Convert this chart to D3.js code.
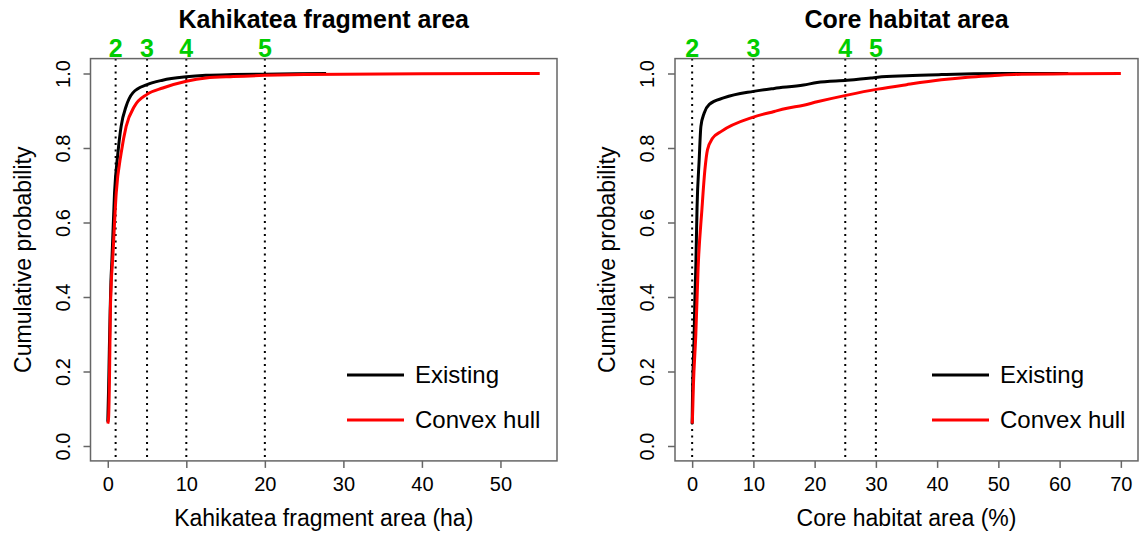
<!DOCTYPE html>
<html>
<head>
<meta charset="utf-8">
<script src="https://cdn.jsdelivr.net/npm/d3@7"></script>
<style>
  html, body { margin: 0; padding: 0; background: #fff; }
  svg { display: block; font-family: "Liberation Sans", Arial, sans-serif; }
</style>
</head>
<body>
<svg id="chart" width="1145" height="533"></svg>
<script>
// Cumulative distribution of fragment area (ha)
const fragExistingArea = [0, 0.1, 0.2, 0.3, 0.4, 0.53, 0.86, 1.29, 1.7, 2.34, 3.19, 5.0, 6.98, 10, 12.5, 16, 20, 24, 27.8];
const fragExistingProb = [0.065, 0.15, 0.26, 0.36, 0.44, 0.50, 0.68, 0.787, 0.858, 0.912, 0.948, 0.970, 0.982, 0.991, 0.995, 0.997, 0.998, 0.999, 1.0];
const fragHullArea = [0, 0.1, 0.23, 0.32, 0.45, 0.62, 1.08, 1.71, 2.34, 3.4, 5.0, 7.0, 10, 12.5, 16, 20, 25, 30, 40, 55];
const fragHullProb = [0.06, 0.075, 0.2, 0.35, 0.44, 0.5, 0.68, 0.787, 0.858, 0.912, 0.944, 0.961, 0.979, 0.988, 0.992, 0.995, 0.997, 0.998, 0.999, 1.0];

// Cumulative distribution of core habitat area (%)
const coreExistingArea = [0, 0.05, 0.33, 0.44, 0.6, 0.8, 1.15, 1.43, 1.97, 2.8, 5.25, 10, 13.4, 18.2, 20.4, 25.3, 29.2, 30.3, 35, 40.7, 46, 53.8, 61.4];
const coreExistingProb = [0.06, 0.123, 0.30, 0.39, 0.48, 0.64, 0.769, 0.858, 0.894, 0.917, 0.935, 0.952, 0.960, 0.969, 0.976, 0.982, 0.988, 0.990, 0.994, 0.997, 0.999, 1.0, 1.0];
const coreHullArea = [0, 0.05, 0.2, 0.6, 0.98, 1.59, 2.08, 2.5, 3.33, 4.7, 10, 13.4, 15.3, 18.2, 20.4, 25.3, 30.3, 35, 40.7, 45, 48.9, 53.8, 61.4, 70];
const coreHullProb = [0.06, 0.075, 0.16, 0.30, 0.48, 0.634, 0.741, 0.795, 0.826, 0.844, 0.883, 0.898, 0.906, 0.915, 0.924, 0.942, 0.958, 0.970, 0.983, 0.990, 0.994, 0.998, 0.999, 1.0];

// Threshold markers (numbered classes)
const fragThresholds = [1, 5, 10, 20];
const coreThresholds = [0, 10, 25, 30];
const thresholdLabels = ["2", "3", "4", "5"];

const fragTicks = [0, 10, 20, 30, 40, 50];
const coreTicks = [0, 10, 20, 30, 40, 50, 60, 70];
const probTicks = [0, 0.2, 0.4, 0.6, 0.8, 1.0];

const seriesNames = ["Existing", "Convex hull"];
const seriesColors = ["#000000", "#ff0000"];

const panels = [
  {
    title: "Kahikatea fragment area",
    xlab: "Kahikatea fragment area (ha)",
    xdom: [0, 55], xticks: fragTicks,
    left: 90.5, right: 557,
    series: [[fragExistingArea, fragExistingProb], [fragHullArea, fragHullProb]],
    thresholds: fragThresholds,
    legendX: 347
  },
  {
    title: "Core habitat area",
    xlab: "Core habitat area (%)",
    xdom: [0, 70], xticks: coreTicks,
    left: 675, right: 1138,
    series: [[coreExistingArea, coreExistingProb], [coreHullArea, coreHullProb]],
    thresholds: coreThresholds,
    legendX: 932
  }
];

const svg = d3.select("#chart");
const plotTop = 58.6, plotBottom = 460.9;
const axisColor = "#666666";

panels.forEach(p => {
  const pad = (p.xdom[1] - p.xdom[0]) * 0.04;
  const x = d3.scaleLinear().domain([p.xdom[0] - pad, p.xdom[1] + pad]).range([p.left, p.right]);
  const y = d3.scaleLinear().domain([-0.04, 1.04]).range([plotBottom, plotTop]);
  const g = svg.append("g");

  // threshold lines
  g.selectAll("line.thr").data(p.thresholds).enter().append("line")
    .attr("x1", d => x(d)).attr("x2", d => x(d))
    .attr("y1", plotTop).attr("y2", plotBottom)
    .attr("stroke", "#000").attr("stroke-width", 2)
    .attr("stroke-dasharray", "2 4.5");

  // ECDF curves
  const line = d3.line().x(d => x(d[0])).y(d => y(d[1])).curve(d3.curveMonotoneX);
  p.series.forEach((s, i) => {
    const pts = s[0].map((v, k) => [v, s[1][k]]);
    g.append("path").datum(pts)
      .attr("d", line)
      .attr("fill", "none")
      .attr("stroke", seriesColors[i])
      .attr("stroke-width", 3)
      .attr("stroke-linejoin", "round");
  });

  // box
  g.append("rect")
    .attr("x", p.left).attr("y", plotTop)
    .attr("width", p.right - p.left).attr("height", plotBottom - plotTop)
    .attr("fill", "none").attr("stroke", axisColor).attr("stroke-width", 1.5);

  // x axis
  const xa = g.append("g").attr("transform", `translate(0,${plotBottom})`)
    .call(d3.axisBottom(x).tickValues(p.xticks).tickFormat(d3.format("d")).tickSize(7).tickPadding(4));
  xa.select(".domain").remove();
  xa.selectAll(".tick line").attr("stroke", axisColor).attr("stroke-width", 1.5);
  xa.selectAll(".tick text").attr("font-size", 20).attr("fill", "#000")
    .attr("font-family", "Liberation Sans, Arial, sans-serif").attr("dy", "0.95em");

  // y axis
  const ya = g.append("g").attr("transform", `translate(${p.left},0)`)
    .call(d3.axisLeft(y).tickValues(probTicks).tickFormat(d3.format(".1f")).tickSize(7));
  ya.select(".domain").remove();
  ya.selectAll(".tick line").attr("stroke", axisColor).attr("stroke-width", 1.5);
  ya.selectAll(".tick text").remove();
  ya.selectAll(".tick").append("text")
    .attr("transform", `translate(-21,0) rotate(-90)`)
    .attr("text-anchor", "middle")
    .attr("font-size", 20).attr("fill", "#000")
    .attr("font-family", "Liberation Sans, Arial, sans-serif")
    .text(d => d3.format(".1f")(d));

  const cx = (p.left + p.right) / 2;
  // title
  g.append("text").attr("x", cx).attr("y", 28)
    .attr("text-anchor", "middle").attr("font-size", 25).attr("font-weight", "bold")
    .text(p.title);

  // x label
  g.append("text").attr("x", cx).attr("y", 526)
    .attr("text-anchor", "middle").attr("font-size", 23)
    .text(p.xlab);

  // y label
  g.append("text")
    .attr("transform", `translate(${p.left - 60},${(plotTop + plotBottom) / 2}) rotate(-90)`)
    .attr("text-anchor", "middle").attr("font-size", 23)
    .text("Cumulative probability");

  // threshold numbers
  g.selectAll("text.thr").data(p.thresholds).enter().append("text")
    .attr("x", d => x(d)).attr("y", 57)
    .attr("text-anchor", "middle").attr("font-size", 25).attr("font-weight", "bold")
    .attr("fill", "#00cd00")
    .text((d, i) => thresholdLabels[i]);

  // legend
  seriesNames.forEach((name, i) => {
    const ly = 375 + i * 45;
    g.append("line").attr("x1", p.legendX).attr("x2", p.legendX + 57)
      .attr("y1", ly).attr("y2", ly)
      .attr("stroke", seriesColors[i]).attr("stroke-width", 3);
    g.append("text").attr("x", p.legendX + 68).attr("y", ly + 8)
      .attr("font-size", 24).text(name);
  });
});
</script>
</body>
</html>
